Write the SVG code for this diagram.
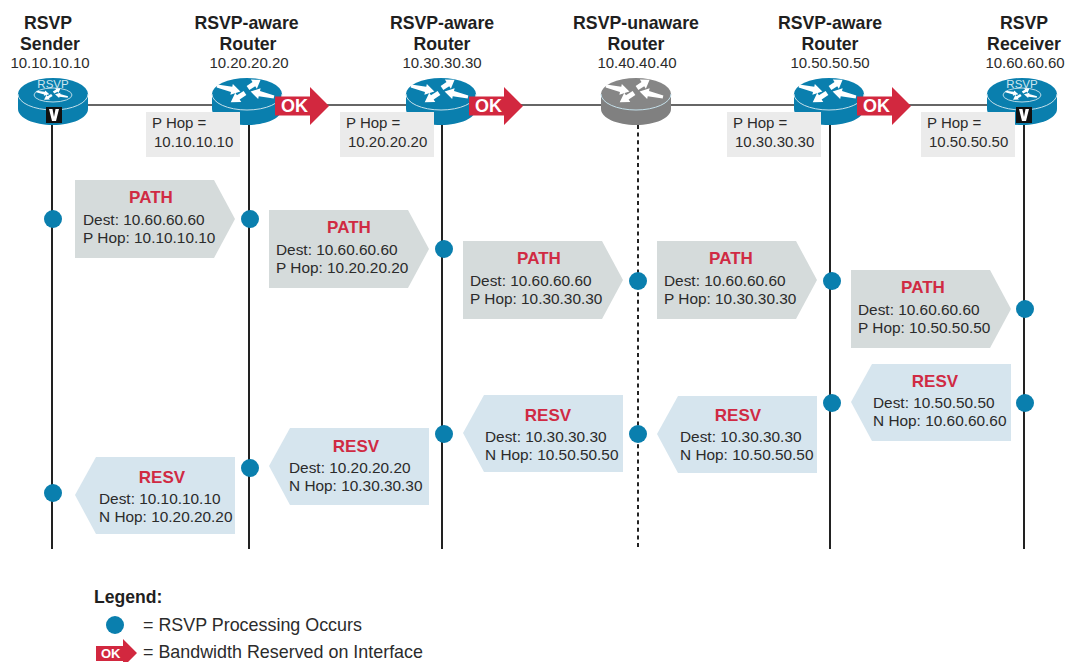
<svg xmlns="http://www.w3.org/2000/svg" xmlns:xlink="http://www.w3.org/1999/xlink" width="1066" height="662" viewBox="0 0 1066 662">
<style>
text{font-family:"Liberation Sans",Arial,sans-serif;fill:#2b2b2b;font-size:15.4px}
.t{font-weight:700;font-size:17.7px;fill:#1f1f1f;text-anchor:middle}
.ip{text-anchor:middle;font-size:15px}
.h{font-size:15px}
.l{font-size:17.9px}
.r{font-weight:700;font-size:17px;fill:#d02a43;text-anchor:middle}
.ok{font-weight:700;font-size:18px;fill:#fff}
.life{stroke:#222;stroke-width:2;fill:none}
.link{stroke:#666;stroke-width:2;fill:none}
.path{fill:#d5dbdb}
.resv{fill:#d6e5ee}
.hop{fill:#ebebeb}
.dot{fill:#0a7fae}
.okf{fill:#d2283f}
</style>
<defs>
<g id="arrows" fill="#fff">
<path transform="translate(-30,-8) rotate(13)" d="M0,-1.500 L15,-2.800 V-5.500 L24,0 L15,5.500 V2.800 L0,1.500Z"/>
<path transform="translate(1,-6) rotate(-33)" d="M0,-2.500 L7,-2.500 V-5.500 L15,0 L7,5.500 V2.500 L0,2.500Z"/>
<path transform="translate(27,3) rotate(193)" d="M0,-1.500 L15,-2.800 V-5.500 L24,0 L15,5.500 V2.800 L0,1.500Z"/>
<path transform="translate(-2,-1) rotate(147)" d="M0,-2.500 L8,-2.500 V-5.500 L17,0 L8,5.500 V2.500 L0,2.500Z"/>
</g>
<path id="body" d="M-35,0 V15 C-35,24 -19,31 0,31 C19,31 35,24 35,15 V0Z"/>
<path id="rim" d="M-35,0 A35,16 0 0 0 35,0" fill="none" stroke="#c5e0ea" stroke-width="1"/>
<g id="router">
<use xlink:href="#body" fill="#0a7fae"/>
<ellipse rx="35" ry="16" fill="#0a7fae"/>
<use xlink:href="#rim"/>
<use xlink:href="#arrows"/>
</g>
<g id="vrouter">
<use xlink:href="#body" fill="#0a7fae"/>
<ellipse rx="35" ry="16" fill="#0a7fae"/>
<use xlink:href="#rim"/>
<ellipse cx="0" cy="1" rx="19" ry="7" fill="none" stroke="#b9dbe8" stroke-width="1"/>
<use xlink:href="#arrows" transform="translate(0,1.500) scale(.55,.5)"/>
<text x="0" y="-6.500" text-anchor="middle" style="font-size:11.5px;fill:#cfe6ef">RSVP</text>
</g>
<g id="vbox">
<rect width="16" height="16" fill="#111"/>
<path d="M3,2 H6.500 L8,10 L9.500,2 H13 L10,14 H6Z" fill="#fff"/>
</g>
<path id="okarrow" class="okf" d="M0,-9.500 H35 V-19 L54,0 L35,19 V9.500 H0Z"/>
<path id="pathbox" class="path" d="M0,0 H139 L160,39 L139,78 H0Z"/>
<path id="resvbox" class="resv" d="M21,0 H160 V77 H21 L0,38Z"/>
</defs>

<g id="connectors">
<line class="link" x1="85" y1="105" x2="1000" y2="105"/>
<line class="life" x1="52" y1="120" x2="52" y2="549"/>
<line class="life" x1="249" y1="120" x2="249" y2="549"/>
<line class="life" x1="442" y1="120" x2="442" y2="549"/>
<line class="life" x1="638" y1="125" x2="638" y2="549" stroke-dasharray="4 3.600"/>
<line class="life" x1="830" y1="120" x2="830" y2="549"/>
<line class="life" x1="1024" y1="120" x2="1024" y2="549"/>
</g>

<g id="node-sender">
<text class="t" x="48" y="29">RSVP</text><text class="t" x="50" y="50">Sender</text><text class="ip" x="50" y="68">10.10.10.10</text>
<use xlink:href="#vrouter" x="53" y="94"/>
<use xlink:href="#vbox" x="46" y="107"/>
</g>
<g id="node-r2">
<text class="t" x="246.500" y="29">RSVP-aware</text><text class="t" x="248" y="50">Router</text><text class="ip" x="249" y="68">10.20.20.20</text>
<use xlink:href="#router" x="247" y="94"/>
<use xlink:href="#okarrow" x="275" y="106"/><text class="ok" x="281" y="111.500">OK</text>
<rect class="hop" x="146" y="112" width="94" height="45"/>
<text class="h" x="152" y="128">P Hop =</text><text class="h" x="154" y="147">10.10.10.10</text>
</g>
<g id="node-r3">
<text class="t" x="442" y="29">RSVP-aware</text><text class="t" x="442" y="50">Router</text><text class="ip" x="442" y="68">10.30.30.30</text>
<use xlink:href="#router" x="441" y="94"/>
<use xlink:href="#okarrow" x="469" y="106"/><text class="ok" x="475" y="111.500">OK</text>
<rect class="hop" x="340" y="112" width="94" height="45"/>
<text class="h" x="346" y="128">P Hop =</text><text class="h" x="348" y="147">10.20.20.20</text>
</g>
<g id="node-r4">
<text class="t" x="636" y="29">RSVP-unaware</text><text class="t" x="636" y="50">Router</text><text class="ip" x="637" y="68">10.40.40.40</text>
<use xlink:href="#body" x="636" y="94" fill="#808080"/>
<ellipse cx="636" cy="94" rx="35" ry="16" fill="#868686"/>
<use xlink:href="#rim" x="636" y="94"/>
<use xlink:href="#arrows" x="636" y="94"/>
</g>
<g id="node-r5">
<text class="t" x="830" y="29">RSVP-aware</text><text class="t" x="830" y="50">Router</text><text class="ip" x="830" y="68">10.50.50.50</text>
<use xlink:href="#router" x="829" y="94"/>
<use xlink:href="#okarrow" x="857" y="106"/><text class="ok" x="863" y="111.500">OK</text>
<rect class="hop" x="727" y="112" width="94" height="45"/>
<text class="h" x="733" y="128">P Hop =</text><text class="h" x="735" y="147">10.30.30.30</text>
</g>
<g id="node-receiver">
<text class="t" x="1024" y="29">RSVP</text><text class="t" x="1024" y="50">Receiver</text><text class="ip" x="1025" y="68">10.60.60.60</text>
<use xlink:href="#vrouter" x="1022" y="94"/>
<use xlink:href="#vbox" x="1016" y="107"/>
<rect class="hop" x="921" y="112" width="94" height="45"/>
<text class="h" x="927" y="128">P Hop =</text><text class="h" x="929" y="147">10.50.50.50</text>
</g>

<g id="msg-path1"><use xlink:href="#pathbox" x="75" y="180"/><text class="r" x="151" y="203">PATH</text><text x="83" y="224.500">Dest: 10.60.60.60</text><text x="83" y="242.500">P Hop: 10.10.10.10</text></g>
<g id="msg-path2"><use xlink:href="#pathbox" x="269" y="210"/><text class="r" x="349" y="233">PATH</text><text x="276" y="254.500">Dest: 10.60.60.60</text><text x="276" y="272.500">P Hop: 10.20.20.20</text></g>
<g id="msg-path3"><use xlink:href="#pathbox" x="463" y="241"/><text class="r" x="539" y="264">PATH</text><text x="470" y="285.500">Dest: 10.60.60.60</text><text x="470" y="303.500">P Hop: 10.30.30.30</text></g>
<g id="msg-path4"><use xlink:href="#pathbox" x="657" y="241"/><text class="r" x="731" y="264">PATH</text><text x="664" y="285.500">Dest: 10.60.60.60</text><text x="664" y="303.500">P Hop: 10.30.30.30</text></g>
<g id="msg-path5"><use xlink:href="#pathbox" x="851" y="270"/><text class="r" x="923" y="293">PATH</text><text x="858" y="314.500">Dest: 10.60.60.60</text><text x="858" y="332.500">P Hop: 10.50.50.50</text></g>

<g id="msg-resv1"><use xlink:href="#resvbox" x="75" y="457"/><text class="r" x="162" y="482.500">RESV</text><text x="99" y="503.500">Dest: 10.10.10.10</text><text x="99" y="521.500">N Hop: 10.20.20.20</text></g>
<g id="msg-resv2"><use xlink:href="#resvbox" x="269" y="428"/><text class="r" x="356" y="452">RESV</text><text x="289" y="472.500">Dest: 10.20.20.20</text><text x="289" y="490.500">N Hop: 10.30.30.30</text></g>
<g id="msg-resv3"><use xlink:href="#resvbox" x="463" y="395"/><text class="r" x="548" y="421">RESV</text><text x="485" y="441.500">Dest: 10.30.30.30</text><text x="485" y="459.500">N Hop: 10.50.50.50</text></g>
<g id="msg-resv4"><use xlink:href="#resvbox" x="657" y="396"/><text class="r" x="738" y="421">RESV</text><text x="680" y="441.500">Dest: 10.30.30.30</text><text x="680" y="459.500">N Hop: 10.50.50.50</text></g>
<g id="msg-resv5"><use xlink:href="#resvbox" x="851" y="364"/><text class="r" x="935" y="387">RESV</text><text x="873" y="407.500">Dest: 10.50.50.50</text><text x="873" y="425.500">N Hop: 10.60.60.60</text></g>

<g id="dots">
<circle class="dot" cx="53" cy="219" r="9"/><circle class="dot" cx="250" cy="219" r="9"/><circle class="dot" cx="444" cy="249" r="9"/><circle class="dot" cx="638" cy="281" r="9"/><circle class="dot" cx="832" cy="281" r="9"/><circle class="dot" cx="1025" cy="309" r="9"/>
<circle class="dot" cx="53" cy="493" r="9"/><circle class="dot" cx="250" cy="468" r="9"/><circle class="dot" cx="444" cy="434" r="9"/><circle class="dot" cx="638" cy="434" r="9"/><circle class="dot" cx="832" cy="403" r="9"/><circle class="dot" cx="1025" cy="403" r="9"/>
</g>

<g id="legend">
<text x="94" y="603" style="font-weight:700;font-size:17.6px;fill:#1f1f1f">Legend:</text>
<circle class="dot" cx="115" cy="625" r="9"/>
<text class="l" x="143" y="630.500">= RSVP Processing Occurs</text>
<path class="okf" d="M96,646 H123 V639 L137,653 L123,667 V661 H96Z"/>
<text x="101" y="658" style="font-weight:700;font-size:13px;fill:#fff">OK</text>
<text class="l" x="143" y="657.500">= Bandwidth Reserved on Interface</text>
</g>
</svg>
